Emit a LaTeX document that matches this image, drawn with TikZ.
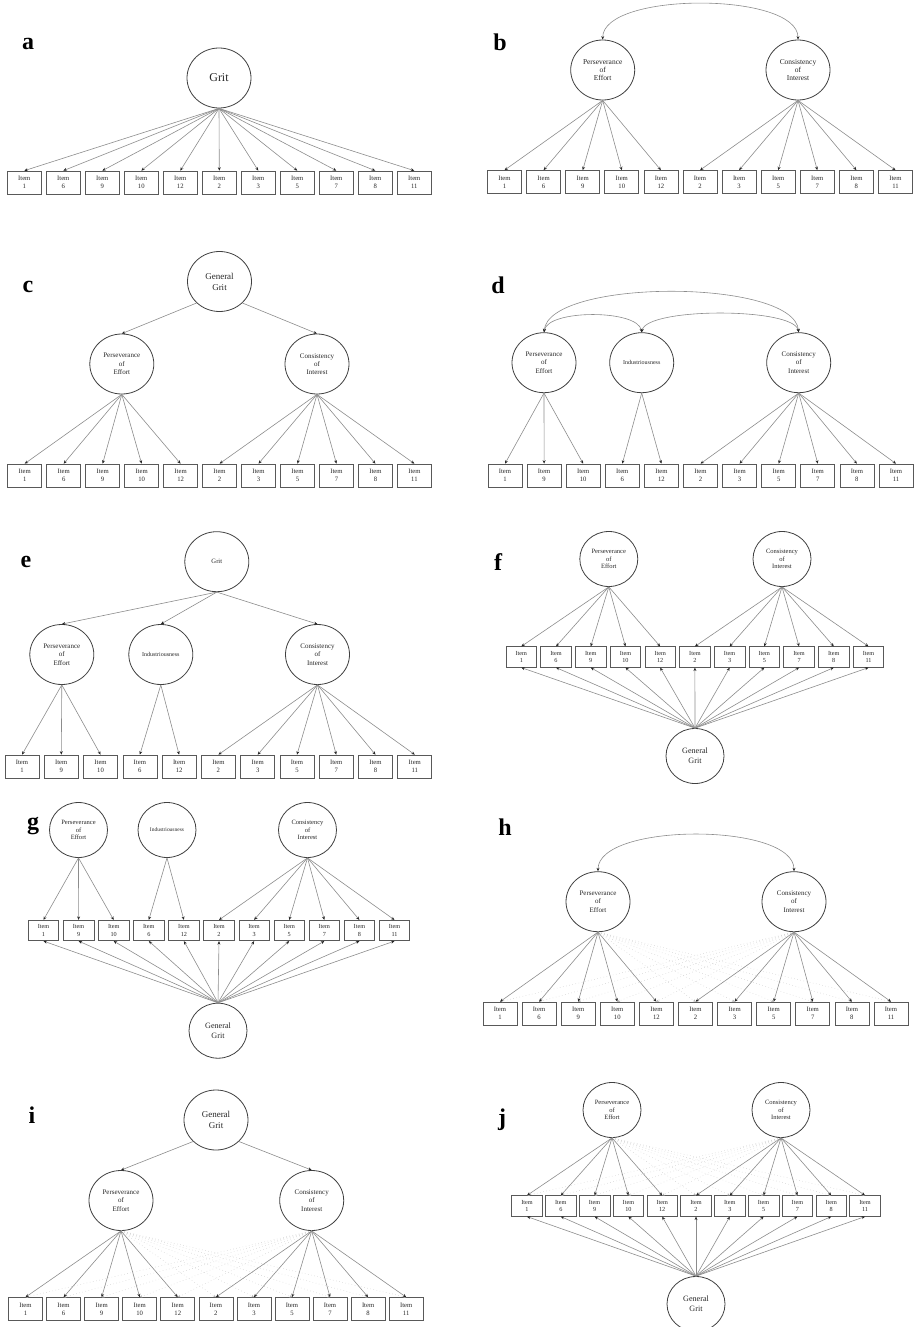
\documentclass[tikz,border=0pt]{standalone}
\usepackage{fontspec}
\setmainfont{Liberation Serif}
\usetikzlibrary{shapes.geometric,arrows.meta}
\newcommand{\itemrow}[6]{%
  \foreach \lab [count=\k] in {#6} {\node[#5] (#1\k) at ({#2+(\k-1)*#3},#4) {Item\\\lab};}%
}
\tikzset{
  lat/.style={draw=black!75, line width=0.6pt, ellipse, inner sep=0pt, align=center, text=black!85,
              minimum width=64*0.75pt, minimum height=60*0.75pt, font=\fontsize{5.25}{6.2}\selectfont},
  latS/.style={lat, minimum width=58*0.75pt, minimum height=55*0.75pt, font=\fontsize{4.9}{5.6}\selectfont},
  obs/.style={draw=black!65, line width=0.5pt, rectangle, inner sep=0pt, align=center, text=black!85,
              minimum width=34*0.75pt, minimum height=23*0.75pt, font=\fontsize{5}{5.8}\selectfont},
  obsS/.style={obs, minimum width=30.5*0.75pt, minimum height=20.5*0.75pt, font=\fontsize{4.65}{5.4}\selectfont},
  fInd/.style={font=\fontsize{4.5}{5}\selectfont},
  fIndS/.style={font=\fontsize{4.1}{5}\selectfont},
  fGen/.style={font=\fontsize{6.75}{8.25}\selectfont},
  fGenS/.style={font=\fontsize{6.1}{7.5}\selectfont},
  ld/.style={draw=black!45, line width=0.45pt, -{Stealth[length=2.6pt,width=2.2pt,color=black!85]}},
  cov/.style={draw=black!45, line width=0.45pt, {Stealth[length=2.6pt,width=2.2pt,color=black!85]}-{Stealth[length=2.6pt,width=2.2pt,color=black!85]}},
  cross/.style={draw=black!20, line width=0.4pt, dotted, -{Stealth[length=2pt,width=1.8pt,color=black!30]}},
  plab/.style={font=\fontsize{18}{18}\selectfont\bfseries, anchor=base, inner sep=0pt},
}
\begin{document}
\begin{tikzpicture}[x=0.75pt,y=-0.75pt]
\useasboundingbox (0,0) rectangle (916,1327);

% ---------------- panel a
\node[plab] (labA) at (28,50) {a};
\node[lat, font=\fontsize{9}{10}\selectfont] (aG) at (219,78) {Grit};
\itemrow{a}{24.3}{39.0}{182.5}{obs}{1,6,9,10,12,2,3,5,7,8,11}
\foreach \k in {1,...,11} \draw[ld] (aG.south) -- (a\k.north);

% ---------------- panel b
\node[plab] (labB) at (500,51) {b};
\node[lat, font=\fontsize{5.6}{6.2}\selectfont] (bPE) at (602.7,70) {Perseverance\\of\\Effort};
\node[lat, font=\fontsize{5.6}{6.2}\selectfont] (bCI) at (798,70) {Consistency\\of\\Interest};
\itemrow{b}{504.5}{39.1}{182}{obs}{1,6,9,10,12,2,3,5,7,8,11}
\foreach \k in {1,...,5} \draw[ld] (bPE.south) -- (b\k.north);
\foreach \k in {6,...,11} \draw[ld] (bCI.south) -- (b\k.north);
\draw[cov] (bPE.north) .. controls +(0,-48) and +(0,-48) .. (bCI.north);

% ---------------- panel c
\node[plab] (labC) at (28,292) {c};
\node[lat, fGen] (cG) at (219.5,281.5) {General\\Grit};
\node[lat] (cPE) at (121.8,364) {Perseverance\\of\\Effort};
\node[lat] (cCI) at (317,364) {Consistency\\of\\Interest};
\itemrow{c}{24.7}{38.97}{475.5}{obs}{1,6,9,10,12,2,3,5,7,8,11}
\draw[ld] (cG.south west) -- (cPE.north);
\draw[ld] (cG.south east) -- (cCI.north);
\foreach \k in {1,...,5} \draw[ld] (cPE.south) -- (c\k.north);
\foreach \k in {6,...,11} \draw[ld] (cCI.south) -- (c\k.north);

% ---------------- panel d
\node[plab] (labD) at (498,293) {d};
\node[lat] (dPE) at (544,362.7) {Perseverance\\of\\Effort};
\node[lat, fInd] (dIN) at (641.7,362.7) {Industriousness};
\node[lat] (dCI) at (798.7,362.7) {Consistency\\of\\Interest};
\itemrow{d}{505}{39.1}{475.5}{obs}{1,9,10,6,12,2,3,5,7,8,11}
\foreach \k in {1,...,3} \draw[ld] (dPE.south) -- (d\k.north);
\foreach \k in {4,5} \draw[ld] (dIN.south) -- (d\k.north);
\foreach \k in {6,...,11} \draw[ld] (dCI.south) -- (d\k.north);
\draw[cov] (dPE.north) .. controls +(5,-54) and +(-5,-54) .. (dCI.north);
\draw[cov] (dPE.north) .. controls +(4,-23) and +(-4,-23) .. (dIN.north);
\draw[cov] (dIN.north) .. controls +(5,-25) and +(-5,-25) .. (dCI.north);

% ---------------- panel e
\node[plab] (labE) at (26,567) {e};
\node[lat, font=\fontsize{4.95}{6}\selectfont] (eG) at (216.8,561.7) {Grit};
\node[lat] (ePE) at (61.8,654.5) {Perseverance\\of\\Effort};
\node[lat, fInd] (eIN) at (160.8,654.5) {Industriousness};
\node[lat] (eCI) at (317.5,654.5) {Consistency\\of\\Interest};
\itemrow{e}{22}{39.28}{766.5}{obs}{1,9,10,6,12,2,3,5,7,8,11}
\draw[ld] (eG.south) -- (ePE.north);
\draw[ld] (eG.south) -- (eIN.north);
\draw[ld] (eG.south) -- (eCI.north);
\foreach \k in {1,...,3} \draw[ld] (ePE.south) -- (e\k.north);
\foreach \k in {4,5} \draw[ld] (eIN.south) -- (e\k.north);
\foreach \k in {6,...,11} \draw[ld] (eCI.south) -- (e\k.north);

% ---------------- panel f
\node[plab] (labF) at (498,570) {f};
\node[latS] (fPE) at (608.8,559) {Perseverance\\of\\Effort};
\node[latS] (fCI) at (782,559) {Consistency\\of\\Interest};
\itemrow{f}{521.3}{34.72}{657}{obsS}{1,6,9,10,12,2,3,5,7,8,11}
\node[latS, fGenS] (fG) at (695,756) {General\\Grit};
\foreach \k in {1,...,5} \draw[ld] (fPE.south) -- (f\k.north);
\foreach \k in {6,...,11} \draw[ld] (fCI.south) -- (f\k.north);
\foreach \k in {1,...,11} \draw[ld] (fG.north) -- (f\k.south);

% ---------------- panel g
\node[plab] (labG) at (33,829) {g};
\node[latS] (gPE) at (78.5,830) {Perseverance\\of\\Effort};
\node[latS, fIndS] (gIN) at (167,830) {Industriousness};
\node[latS] (gCI) at (307.5,830) {Consistency\\of\\Interest};
\itemrow{g}{43.5}{35.1}{930.5}{obsS}{1,9,10,6,12,2,3,5,7,8,11}
\node[latS, fGenS] (gG) at (218,1030.7) {General\\Grit};
\foreach \k in {1,...,3} \draw[ld] (gPE.south) -- (g\k.north);
\foreach \k in {4,5} \draw[ld] (gIN.south) -- (g\k.north);
\foreach \k in {6,...,11} \draw[ld] (gCI.south) -- (g\k.north);
\foreach \k in {1,...,11} \draw[ld] (gG.north) -- (g\k.south);

% ---------------- panel h
\node[plab] (labH) at (505,835) {h};
\node[lat] (hPE) at (598,901.7) {Perseverance\\of\\Effort};
\node[lat] (hCI) at (794,901.7) {Consistency\\of\\Interest};
\itemrow{h}{500}{39.1}{1013.5}{obs}{1,6,9,10,12,2,3,5,7,8,11}
\foreach \k in {6,...,11} \draw[cross] (hPE.south) -- (h\k.north);
\foreach \k in {1,...,5} \draw[cross] (hCI.south) -- (h\k.north);
\foreach \k in {1,...,5} \draw[ld] (hPE.south) -- (h\k.north);
\foreach \k in {6,...,11} \draw[ld] (hCI.south) -- (h\k.north);
\draw[cov] (hPE.north) .. controls +(0,-49) and +(0,-49) .. (hCI.north);

% ---------------- panel i
\node[plab] (labI) at (32,1123) {i};
\node[lat, fGen] (iG) at (216,1120) {General\\Grit};
\node[lat] (iPE) at (121,1200.5) {Perseverance\\of\\Effort};
\node[lat] (iCI) at (311.7,1200.5) {Consistency\\of\\Interest};
\itemrow{i}{25.5}{38.07}{1309}{obs}{1,6,9,10,12,2,3,5,7,8,11}
\draw[ld] (iG.south west) -- (iPE.north);
\draw[ld] (iG.south east) -- (iCI.north);
\foreach \k in {6,...,11} \draw[cross] (iPE.south) -- (i\k.north);
\foreach \k in {1,...,5} \draw[cross] (iCI.south) -- (i\k.north);
\foreach \k in {1,...,5} \draw[ld] (iPE.south) -- (i\k.north);
\foreach \k in {6,...,11} \draw[ld] (iCI.south) -- (i\k.north);

% ---------------- panel j
\node[plab] (labJ) at (502,1125) {j};
\node[latS] (jPE) at (612,1110) {Perseverance\\of\\Effort};
\node[latS] (jCI) at (781,1110) {Consistency\\of\\Interest};
\itemrow{j}{527}{33.8}{1206}{obsS}{1,6,9,10,12,2,3,5,7,8,11}
\node[latS, fGenS] (jG) at (696,1304) {General\\Grit};
\foreach \k in {6,...,11} \draw[cross] (jPE.south) -- (j\k.north);
\foreach \k in {1,...,5} \draw[cross] (jCI.south) -- (j\k.north);
\foreach \k in {1,...,5} \draw[ld] (jPE.south) -- (j\k.north);
\foreach \k in {6,...,11} \draw[ld] (jCI.south) -- (j\k.north);
\foreach \k in {1,...,11} \draw[ld] (jG.north) -- (j\k.south);
\end{tikzpicture}
\end{document}
